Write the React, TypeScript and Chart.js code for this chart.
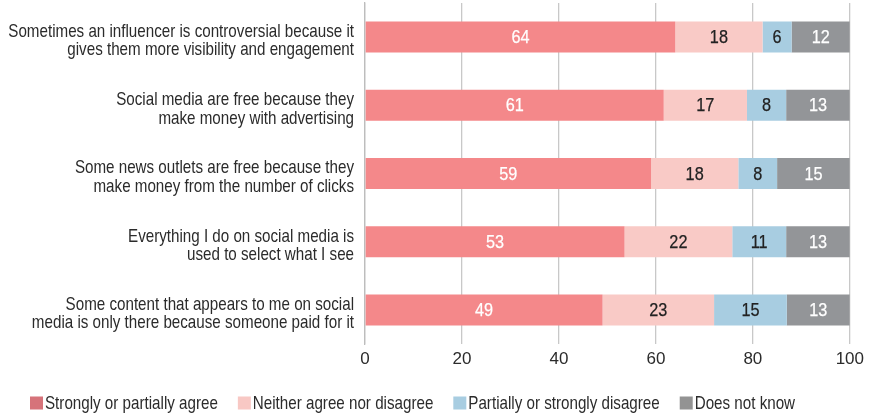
import { useEffect, useRef } from "react";
import { Chart, registerables } from "chart.js";

Chart.register(...registerables);

const categories: string[][] = [
  ["Sometimes an influencer is controversial because it", "gives them more visibility and engagement"],
  ["Social media are free because they", "make money with advertising"],
  ["Some news outlets are free because they", "make money from the number of clicks"],
  ["Everything I do on social media is", "used to select what I see"],
  ["Some content that appears to me on social", "media is only there because someone paid for it"],
];

const seriesNames = [
  "Strongly or partially agree",
  "Neither agree nor disagree",
  "Partially or strongly disagree",
  "Does not know",
];

const agree = [64, 61, 59, 53, 49];
const neither = [18, 17, 18, 22, 23];
const disagree = [6, 8, 8, 11, 15];
const dontKnow = [12, 13, 15, 13, 13];

const xTicks = [0, 20, 40, 60, 80, 100];

const barColors = ["#F4888A", "#F9CAC6", "#A8CDE1", "#939598"];
const legendColors = ["#D6737A", "#F8C8C4", "#A8CDE1", "#939393"];
const valueColors = ["#FFFFFF", "#222222", "#222222", "#FFFFFF"];

const FONT = "'Liberation Sans', Arial, sans-serif";
const NARROW = 0.82;
const TEXT = "#2B2B2B";

export default function App() {
  const ref = useRef<HTMLCanvasElement | null>(null);

  useEffect(() => {
    if (!ref.current) return;
    const series = [agree, neither, disagree, dontKnow];
    const totals = categories.map((_, i) => series.reduce((s, arr) => s + arr[i], 0));

    const datasets = series.map((arr, si) => ({
      label: seriesNames[si],
      data: arr.map((v, i) => (v / totals[i]) * 100),
      rawValues: arr,
      backgroundColor: barColors[si],
      borderWidth: 0,
      barPercentage: 0.455,
      categoryPercentage: 1,
    }));

    // condensed rendering of the category labels (Chart.js draws them, we narrow them)
    const narrowY = {
      id: "narrowY",
      beforeDraw(chart: any) {
        const s: any = chart.scales.y;
        if (s && !s.__narrow) {
          const orig = s.drawLabels;
          s._computeLabelArea = () => undefined;
          s.drawLabels = function (area: any) {
            const ctx = this.ctx;
            const ax = this.right - this.options.ticks.padding;
            ctx.save();
            ctx.translate(ax, 4);
            ctx.scale(NARROW, 1);
            ctx.translate(-ax, 0);
            orig.call(this, area);
            ctx.restore();
          };
          s.__narrow = true;
        }
      },
    };

    const valueLabels = {
      id: "valueLabels",
      afterDatasetsDraw(chart: any) {
        const ctx = chart.ctx;
        ctx.save();
        ctx.font = `18.5px ${FONT}`;
        ctx.textAlign = "center";
        ctx.textBaseline = "middle";
        ctx.lineWidth = 0.25;
        ctx.lineJoin = "round";
        chart.data.datasets.forEach((ds: any, di: number) => {
          const meta = chart.getDatasetMeta(di);
          meta.data.forEach((bar: any, i: number) => {
            const p = bar.getProps(["x", "base", "y"], true);
            ctx.save();
            ctx.translate((p.x + p.base) / 2, p.y + 1);
            ctx.scale(0.88, 1);
            ctx.fillStyle = valueColors[di];
            ctx.strokeStyle = valueColors[di];
            ctx.fillText(String(ds.rawValues[i]), 0, 0);
            ctx.strokeText(String(ds.rawValues[i]), 0, 0);
            ctx.restore();
          });
        });
        ctx.restore();
      },
    };

    const customLegend = {
      id: "customLegend",
      afterDraw(chart: any) {
        const ctx = chart.ctx;
        ctx.save();
        ctx.font = `18.5px ${FONT}`;
        ctx.textAlign = "left";
        ctx.textBaseline = "middle";
        let x = 30;
        const y = 403;
        chart.data.datasets.forEach((ds: any, i: number) => {
          ctx.fillStyle = legendColors[i];
          ctx.fillRect(x, y - 6.5, 13, 13);
          ctx.save();
          ctx.translate(x + 15, y + 1);
          ctx.scale(NARROW, 1);
          ctx.fillStyle = TEXT;
          ctx.fillText(ds.label, 0, 0);
          ctx.restore();
          x += 15 + ctx.measureText(ds.label).width * NARROW + 20;
        });
        ctx.restore();
      },
    };

    const chart = new Chart(ref.current, {
      type: "bar",
      data: { labels: categories, datasets: datasets as any },
      options: {
        indexAxis: "y",
        responsive: true,
        maintainAspectRatio: false,
        animation: false,
        layout: { padding: { top: 3, right: 19, bottom: 40, left: 0 } },
        plugins: {
          legend: { display: false },
          tooltip: { enabled: false },
        },
        scales: {
          x: {
            stacked: true,
            min: xTicks[0],
            max: xTicks[xTicks.length - 1],
            afterFit(scale: any) {
              scale.height = 32;
            },
            afterBuildTicks(scale: any) {
              scale.ticks = xTicks.map((v) => ({ value: v }));
            },
            ticks: {
              font: { family: FONT, size: 17 },
              color: TEXT,
              padding: 5,
            },
            grid: { color: "#C8C8C8", lineWidth: 1.3, drawTicks: false },
            border: { display: false },
          },
          y: {
            stacked: true,
            afterFit(scale: any) {
              scale.width = 365;
              scale.paddingTop = 0;
              scale.paddingBottom = 0;
            },
            ticks: {
              font: { family: FONT, size: 18.5, lineHeight: 1.0 },
              color: TEXT,
              padding: 11,
            },
            grid: { display: false, drawTicks: false },
            border: { display: true, color: "#BDBDBD", width: 1.3 },
          },
        },
      },
      plugins: [narrowY, valueLabels, customLegend],
    });

    return () => chart.destroy();
  }, []);

  return (
    <div style={{ position: "absolute", left: 0, top: 0, width: 869, height: 416, background: "#fff" }}>
      <canvas ref={ref} />
    </div>
  );
}
